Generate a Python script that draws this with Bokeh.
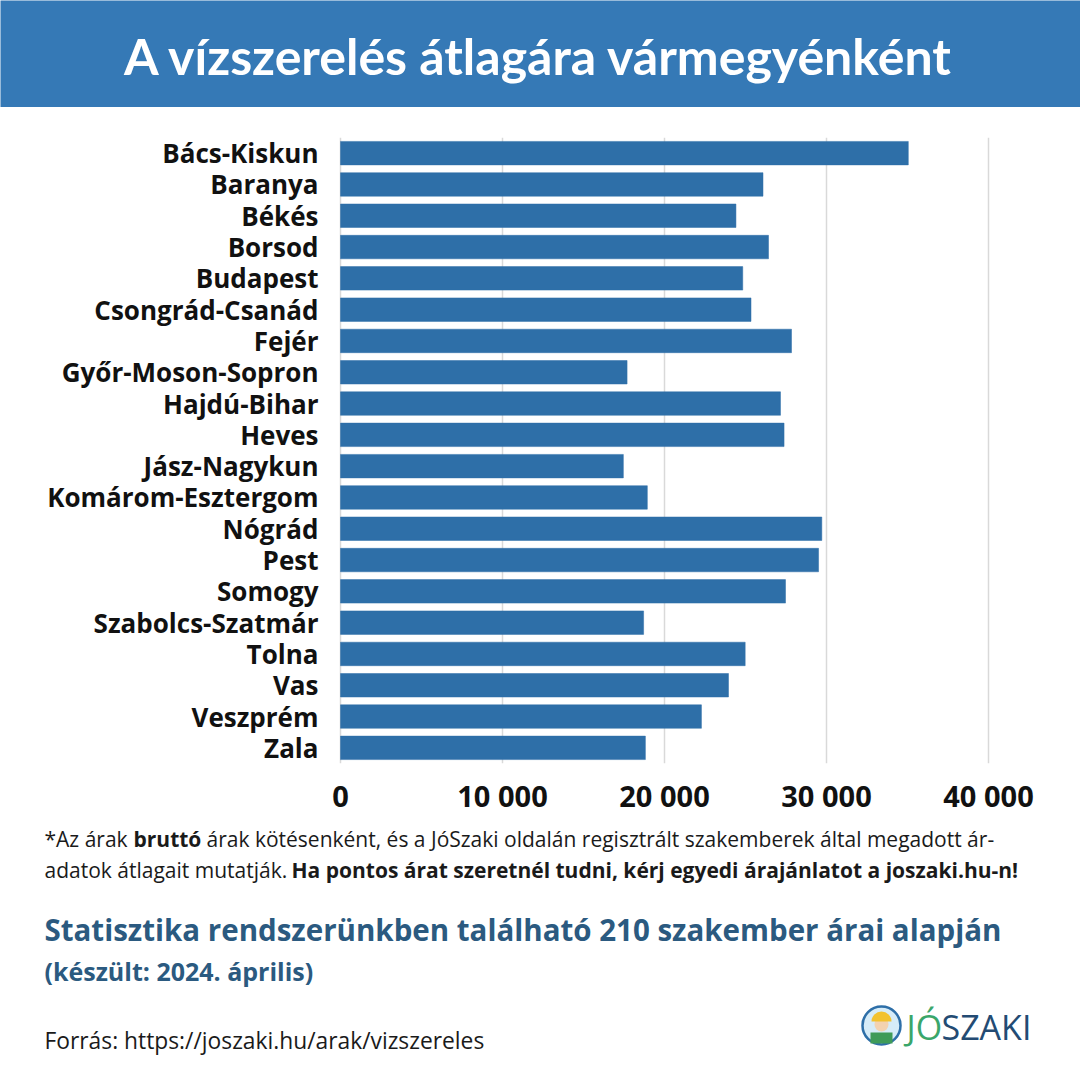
from bokeh.plotting import figure
from bokeh.models import FactorRange, Range1d, FixedTicker, Label
from bokeh.core.properties import value
from bokeh.layouts import column
from bokeh.embed import file_html
from bokeh.resources import INLINE

# ---- data ----
counties = ["Bács-Kiskun", "Baranya", "Békés", "Borsod", "Budapest", "Csongrád-Csanád",
            "Fejér", "Győr-Moson-Sopron", "Hajdú-Bihar", "Heves", "Jász-Nagykun",
            "Komárom-Esztergom", "Nógrád", "Pest", "Somogy", "Szabolcs-Szatmár",
            "Tolna", "Vas", "Veszprém", "Zala"]
prices = [35050, 26080, 24410, 26420, 24830, 25340,
          27840, 17690, 27160, 27380, 17460,
          18940, 29710, 29510, 27470, 18710,
          24980, 23950, 22280, 18820]
tick_values = [0, 10000, 20000, 30000, 40000]
tick_labels = ["0", "10 000", "20 000", "30 000", "40 000"]

title_text = "A vízszerelés átlagára vármegyénként"

BLUE_BANNER = "#3579b6"
BAR = "#2e6fa8"
DARK_BLUE = "#2b5a80"
W = 1080
H = 1080

# ---- banner ----
banner_h = 107
ban = figure(width=W, height=banner_h, x_range=Range1d(0, W), y_range=Range1d(banner_h, 0),
             output_backend="svg", toolbar_location=None, min_border=0,
             x_axis_location=None, y_axis_location=None)
ban.grid.visible = False
ban.outline_line_color = None
ban.background_fill_color = BLUE_BANNER
ban.border_fill_color = BLUE_BANNER
ban.add_layout(Label(x=539, y=55, text=title_text, text_align="center", text_baseline="middle",
                     text_font="Lato", text_font_style="bold", text_font_size="50px",
                     text_color="white"))

# ---- chart (frame spans full width; zero placed at x 340) ----
chart_h = 710
px_per_unit = 648 / 40000.0
zero_px = 340
x_start = -zero_px / px_per_unit
x_end = (W - zero_px) / px_per_unit
p = figure(width=W, height=chart_h, y_range=FactorRange(factors=counties[::-1]),
           x_range=Range1d(x_start, x_end), output_backend="svg", toolbar_location=None,
           min_border_left=0, min_border_right=0, min_border_top=30, min_border_bottom=48,
           y_axis_location=None)
p.hbar(y=counties, right=prices, height=0.75, left=0, fill_color=BAR, line_color=BAR, line_width=0.5)
label_x = -22 / px_per_unit
p.text(x=label_x, y=counties, text=counties, text_align="right", text_baseline="middle",
       text_font=value("Open Sans"), text_font_style="bold", text_font_size="26px",
       text_color="#111111")
p.outline_line_color = None
p.ygrid.grid_line_color = None
p.xgrid.grid_line_color = "#d9d9d9"
p.xgrid.grid_line_width = 1.5
p.xaxis.ticker = FixedTicker(ticks=tick_values)
p.xaxis.major_label_overrides = {v: l for v, l in zip(tick_values, tick_labels)}
p.xaxis.axis_line_color = None
p.xaxis.major_tick_line_color = None
p.xaxis.minor_tick_line_color = None
p.xaxis.major_label_standoff = 6
p.xaxis.major_label_text_font = "Open Sans"
p.xaxis.major_label_text_font_style = "bold"
p.xaxis.major_label_text_font_size = "29px"
p.xaxis.major_label_text_color = "#111111"

# ---- footer ----
foot_h = H - banner_h - chart_h
ft = figure(width=W, height=foot_h, x_range=Range1d(0, W), y_range=Range1d(foot_h, 0),
            output_backend="svg", toolbar_location=None, min_border=0,
            x_axis_location=None, y_axis_location=None)
ft.grid.visible = False
ft.outline_line_color = None

def lab(x, y, t, size, style="normal", color="#1a1a1a", font="Open Sans"):
    ft.add_layout(Label(x=x, y=y, text=t, text_align="left", text_baseline="middle",
                        text_font=font, text_font_style=style, text_font_size=size,
                        text_color=color))

fs = "21px"
lab(44, 21, "*Az árak", fs)
lab(133, 21, "bruttó", fs, "bold")
lab(206, 21, "árak kötésenként, és a JóSzaki oldalán regisztrált szakemberek által megadott ár-", fs)
lab(44, 52, "adatok átlagait mutatják.", fs)
lab(291, 52, "Ha pontos árat szeretnél tudni, kérj egyedi árajánlatot a joszaki.hu-n!", fs, "bold")
lab(44, 112, "Statisztika rendszerünkben található 210 szakember árai alapján", "29.5px", "bold", DARK_BLUE)
lab(44, 153, "(készült: 2024. április)", "25px", "bold", DARK_BLUE)
lab(44, 223, "Forrás: https://joszaki.hu/arak/vizszereles", "22.8px", "normal", "#1a1a1a")

# logo
ft.circle(x=[881], y=[208], radius=19, fill_color="#d6ecf8", line_color=BAR, line_width=2.5)
ft.quad(left=[870], right=[892], top=[215], bottom=[226], fill_color="#3f9b58", line_color=None)
ft.circle(x=[881], y=[207], radius=7, fill_color="#f3d2b0", line_color=None)
ft.wedge(x=[881], y=[204], radius=10, start_angle=0, end_angle=3.14159, direction="anticlock",
         fill_color="#f2c230", line_color=None)
lab(906, 209, "JÓ", "34px", "normal", "#3aa66a")
lab(941, 209, "SZAKI", "34px", "normal", "#234b73")

layout = column(ban, p, ft, spacing=0)
open("out.html", "w").write(file_html(layout, INLINE))
